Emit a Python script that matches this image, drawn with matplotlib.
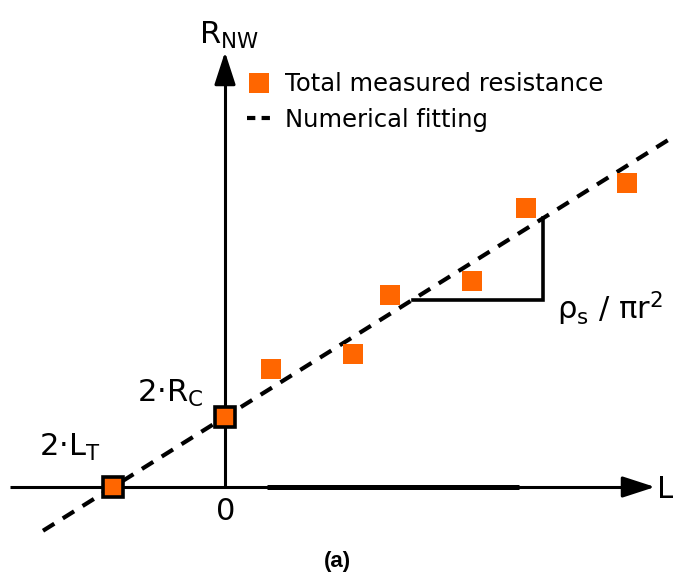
import matplotlib.pyplot as plt
from matplotlib.lines import Line2D

plt.rcParams['mathtext.default'] = 'regular'

# Measured points (schematic units: L vs R_NW)
L_meas = [46, 128, 165, 247, 301, 402]
R_meas = [118, 133, 192, 206, 279, 304]

# Fitted line parameters
slope = 0.625
intercept = 70
fit_L = [-182, 448]

# Slope triangle (along L)
tri_L = [188, 318]

orange = '#ff6600'

fig = plt.figure(figsize=(6.73, 5.74), dpi=100)
ax = fig.add_axes([0, 0, 1, 1])
ax.set_xlim(-225, 448)
ax.set_ylim(-87, 487)
ax.axis('off')

# Axes with arrows
ax.plot([-215, 420], [0, 0], color='k', lw=2.2, solid_capstyle='butt', zorder=1)
ax.plot([42, 294], [0, 0], color='k', lw=3.6, solid_capstyle='butt', zorder=1)
ax.plot([0, 0], [0, 420], color='k', lw=2.2, solid_capstyle='butt', zorder=1)
arrow = dict(arrowstyle='-|>,head_length=2.0,head_width=0.65', lw=2.2,
             color='k', shrinkA=0, shrinkB=0)
ax.annotate('', xy=(430, 0), xytext=(400, 0), arrowprops=arrow)
ax.annotate('', xy=(0, 435), xytext=(0, 405), arrowprops=arrow)

# Fit line
fit_R = [intercept + slope * x for x in fit_L]
line, = ax.plot(fit_L, fit_R, color='k', lw=3, ls=(0, (3.2, 2.4)), zorder=2)

# Slope triangle
y0 = intercept + slope * tri_L[0]
y1 = intercept + slope * tri_L[1]
ax.plot([tri_L[0], tri_L[1], tri_L[1]], [y0, y0, y1], color='k', lw=2.6,
        solid_joinstyle='miter', zorder=2)

# Measured data
pts, = ax.plot(L_meas, R_meas, 's', color=orange, ms=14.5, mew=0, zorder=3)

# Intercepts
ax.plot([0], [intercept], 's', mfc=orange, mec='k', ms=15, mew=2.6, zorder=4)
ax.plot([-intercept / slope], [0], 's', mfc=orange, mec='k', ms=15, mew=2.6, zorder=4)

# Labels
fs = 22
ax.text(4, 452, 'R$_{NW}$', fontsize=fs, ha='center', va='center')
ax.text(432, -3, 'L', fontsize=fs, ha='left', va='center')
ax.text(1, -24, '0', fontsize=fs, ha='center', va='center')
ax.text(-55, 94, '2·R$_C$', fontsize=fs, ha='center', va='center')
ax.text(-155, 40, '2·L$_T$', fontsize=fs, ha='center', va='center')
ax.text(385, 178, 'ρ$_s$ / πr$^2$', fontsize=fs, ha='center', va='center')
ax.text(112, -74, '(a)', fontsize=16, fontweight='bold', family='Liberation Sans',
        ha='center', va='center')

# Legend
fit_handle = Line2D([], [], color='k', lw=3, ls=(0, (2.0, 1.5)))
ax.legend([pts, fit_handle], ['Total measured resistance', 'Numerical fitting'],
          loc='upper left', bbox_to_anchor=(0.367, 0.874), frameon=False,
          fontsize=17.5, handlelength=0.97, handletextpad=0.58, labelspacing=0.48,
          borderpad=0, borderaxespad=0)

fig.savefig('out.png', dpi=100)
